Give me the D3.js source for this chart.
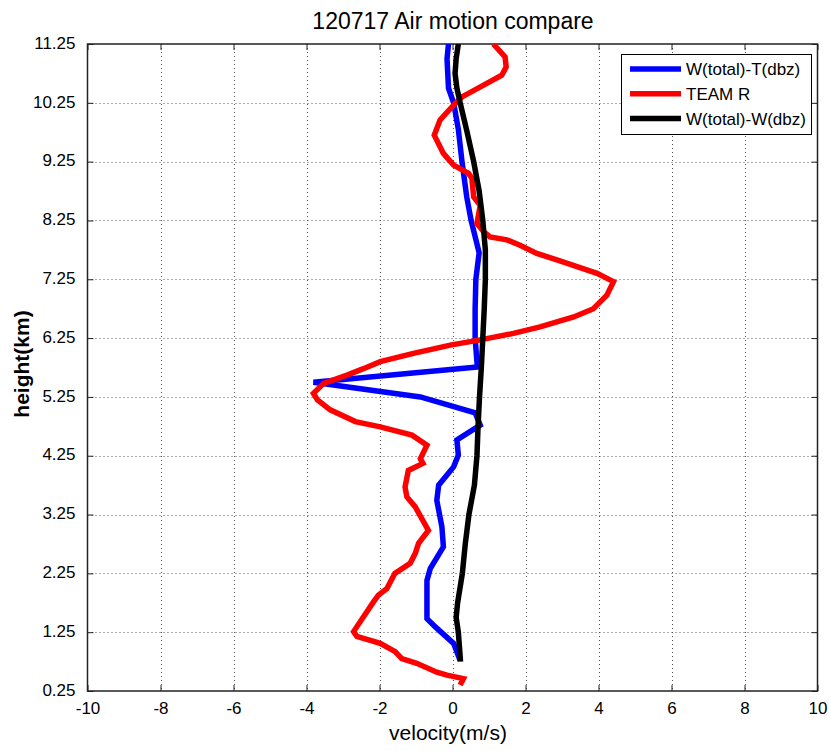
<!DOCTYPE html>
<html>
<head>
<meta charset="utf-8">
<script src="https://cdn.jsdelivr.net/npm/d3@7"></script>
<style>
  html, body { margin: 0; padding: 0; background: #fff; }
  svg { display: block; font-family: "Liberation Sans", Arial, sans-serif; }
</style>
</head>
<body>
<svg id="chart" width="829" height="751"></svg>
<script>
// Vertical profiles of vertical air motion, 120717
const xTicks = [-10, -8, -6, -4, -2, 0, 2, 4, 6, 8, 10];
const yTicks = [0.25, 1.25, 2.25, 3.25, 4.25, 5.25, 6.25, 7.25, 8.25, 9.25, 10.25, 11.25];

// [height (km), velocity (m/s)]
const wTotalTdbz = [
  [11.25, -0.11], [11.0, -0.15], [10.5, -0.11], [10.25, 0.03], [9.8, 0.16],
  [9.25, 0.26], [8.65, 0.39], [8.25, 0.51], [7.75, 0.71], [7.70, 0.73],
  [7.25, 0.64], [6.75, 0.62], [6.25, 0.62], [5.76, 0.68], [5.50, -3.81],
  [5.25, -0.88], [4.98, 0.62], [4.77, 0.76], [4.52, 0.12], [4.26, 0.16],
  [4.06, 0.03], [3.75, -0.38], [3.49, -0.43], [3.04, -0.29], [2.70, -0.25],
  [2.33, -0.61], [2.13, -0.70], [1.48, -0.70], [1.34, -0.47], [1.06, 0.03],
  [0.77, 0.21]
];

const teamR = [
  [11.25, 1.12], [11.03, 1.44], [10.86, 1.47], [10.72, 1.35], [10.58, 0.94],
  [10.35, 0.26], [10.21, 0.03], [9.96, -0.34], [9.70, -0.50], [9.39, -0.25],
  [9.19, 0.03], [9.05, 0.44], [8.97, 0.53], [8.65, 0.58], [8.51, 0.76],
  [8.20, 0.67], [8.06, 0.85], [7.97, 1.03], [7.92, 1.49], [7.83, 1.85],
  [7.69, 2.31], [7.58, 2.86], [7.35, 3.96], [7.21, 4.41], [6.98, 4.23],
  [6.75, 3.86], [6.61, 3.32], [6.44, 2.40], [6.33, 1.67], [6.22, 0.76],
  [6.13, -0.06], [5.99, -1.07], [5.85, -1.98], [5.73, -2.44], [5.62, -2.89],
  [5.48, -3.53], [5.31, -3.81], [5.20, -3.70], [5.03, -3.35], [4.83, -2.66],
  [4.74, -1.98], [4.60, -1.11], [4.43, -0.70], [4.20, -0.88], [4.12, -0.81],
  [4.00, -1.21], [3.72, -1.30], [3.55, -1.25], [3.38, -1.02], [2.98, -0.66],
  [2.76, -0.93], [2.59, -1.02], [2.42, -1.16], [2.25, -1.58], [1.99, -1.80],
  [1.88, -2.03], [1.77, -2.16], [1.26, -2.71], [1.18, -2.62], [1.06, -1.98],
  [0.92, -1.57], [0.80, -1.39], [0.72, -0.98], [0.57, -0.43], [0.52, -0.15],
  [0.46, 0.30], [0.35, 0.21]
];

const wTotalWdbz = [
  [11.25, 0.16], [11.0, 0.10], [10.75, 0.07], [10.5, 0.12], [10.25, 0.21],
  [9.75, 0.40], [9.25, 0.58], [8.75, 0.73], [8.25, 0.83], [7.75, 0.90],
  [7.25, 0.90], [6.75, 0.87], [6.25, 0.83], [5.75, 0.79], [5.25, 0.74],
  [4.75, 0.70], [4.25, 0.67], [3.75, 0.60], [3.25, 0.45], [2.75, 0.35],
  [2.25, 0.27], [1.75, 0.14], [1.50, 0.10], [1.25, 0.16], [1.00, 0.19],
  [0.75, 0.22]
];

const seriesNames = ["W(total)-T(dbz)", "TEAM R", "W(total)-W(dbz)"];
const seriesColors = ["#0000ff", "#ff0000", "#000000"];
const seriesData = [wTotalTdbz, teamR, wTotalWdbz];

const svg = d3.select("#chart");
const plotL = 87.5, plotR = 817.5, plotT = 44, plotB = 691;

const x = d3.scaleLinear().domain([-10, 10]).range([plotL, plotR]);
const y = d3.scaleLinear().domain([0.25, 11.25]).range([plotB, plotT]);

// grid
const grid = svg.append("g").attr("stroke", "#555").attr("stroke-width", 1)
  .attr("stroke-dasharray", "1,3");
grid.selectAll(".gx").data(xTicks.slice(1, -1)).join("line")
  .attr("x1", d => Math.round(x(d)) + 0.5).attr("x2", d => Math.round(x(d)) + 0.5)
  .attr("y1", plotT).attr("y2", plotB);
grid.selectAll(".gy").data(yTicks.slice(1, -1)).join("line")
  .attr("y1", d => Math.round(y(d)) + 0.5).attr("y2", d => Math.round(y(d)) + 0.5)
  .attr("x1", plotL).attr("x2", plotR);

// axes (ticks pointing inward, mirrored on top and right)
const axisColor = "#222";
const hyphenFmt = f => d => f(d).replace("\u2212", "-");
function styleAxis(g) {
  g.select(".domain").remove();
  g.selectAll(".tick line").attr("stroke", axisColor);
  g.selectAll(".tick text").attr("fill", "#000").attr("font-size", 17)
    .attr("font-family", "Liberation Sans, Arial, sans-serif");
}
svg.append("g").attr("transform", `translate(0,${plotB})`)
  .call(d3.axisBottom(x).tickValues(xTicks).tickSize(-6).tickPadding(11)
    .tickFormat(hyphenFmt(d3.format("d"))))
  .call(styleAxis);
svg.append("g").attr("transform", `translate(0,${plotT})`)
  .call(d3.axisTop(x).tickValues(xTicks).tickSize(-6).tickFormat(""))
  .call(styleAxis);
svg.append("g").attr("transform", `translate(${plotL},0)`)
  .call(d3.axisLeft(y).tickValues(yTicks).tickSize(-6).tickPadding(12)
    .tickFormat(d3.format(".2f")))
  .call(styleAxis)
  .call(g => g.selectAll(".tick text").attr("dy", "0.25em"));
svg.append("g").attr("transform", `translate(${plotR},0)`)
  .call(d3.axisRight(y).tickValues(yTicks).tickSize(-6).tickFormat(""))
  .call(styleAxis);

// frame
svg.append("rect").attr("x", plotL).attr("y", plotT)
  .attr("width", plotR - plotL).attr("height", plotB - plotT)
  .attr("fill", "none").attr("stroke", axisColor).attr("stroke-width", 1.5);

// profiles
svg.append("clipPath").attr("id", "plotClip").append("rect")
  .attr("x", plotL).attr("y", plotT).attr("width", plotR - plotL).attr("height", plotB - plotT);
const line = d3.line().x(d => x(d[1])).y(d => y(d[0]));
svg.append("g").attr("clip-path", "url(#plotClip)")
  .selectAll("path").data(seriesData).join("path")
  .attr("d", line)
  .attr("fill", "none")
  .attr("stroke", (d, i) => seriesColors[i])
  .attr("stroke-width", 5.5)
  .attr("stroke-linejoin", "miter")
  .attr("stroke-miterlimit", 2);

// legend
const lg = svg.append("g").attr("transform", "translate(621,54)");
lg.append("rect").attr("x", 0.5).attr("y", 0.5).attr("width", 190).attr("height", 80)
  .attr("fill", "#fff").attr("stroke", "#000").attr("stroke-width", 1);
seriesNames.forEach((name, i) => {
  const yy = 15 + i * 24.7;
  lg.append("line").attr("x1", 9).attr("x2", 60).attr("y1", yy).attr("y2", yy)
    .attr("stroke", seriesColors[i]).attr("stroke-width", 5.5);
  lg.append("text").attr("x", 65).attr("y", yy + 6.3).attr("font-size", 17)
    .attr("fill", "#000").text(name);
});

// title and axis labels
svg.append("text").attr("x", 453).attr("y", 28.5).attr("text-anchor", "middle")
  .attr("font-size", 23).attr("fill", "#000").text("120717 Air motion compare");
svg.append("text").attr("x", 448).attr("y", 740).attr("text-anchor", "middle")
  .attr("font-size", 21).attr("fill", "#000").text("velocity(m/s)");
svg.append("text").attr("transform", "translate(29,364) rotate(-90)")
  .attr("text-anchor", "middle").attr("font-size", 21).attr("font-weight", "bold")
  .attr("fill", "#000").text("height(km)");
</script>
</body>
</html>
